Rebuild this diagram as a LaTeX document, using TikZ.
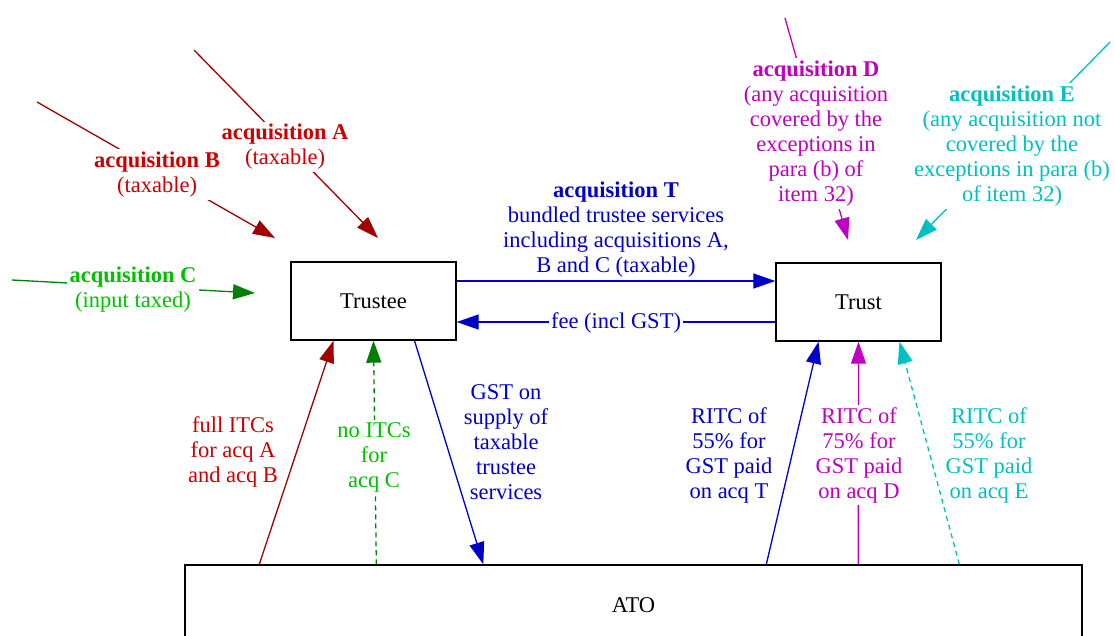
\documentclass[tikz,border=0pt]{standalone}
\usepackage{fontspec}
\setmainfont{Liberation Serif}
\usetikzlibrary{arrows.meta}
\definecolor{redline}{RGB}{160,0,0}
\definecolor{redtext}{RGB}{204,0,0}
\definecolor{greenline}{RGB}{0,128,0}
\definecolor{greentext}{RGB}{0,192,0}
\definecolor{blueline}{RGB}{0,0,200}
\definecolor{magline}{RGB}{192,0,192}
\definecolor{cyanline}{RGB}{0,192,192}
\begin{document}
\begin{tikzpicture}[x=1pt, y=-1pt, font=\fontsize{22.5}{25}\selectfont,
  box/.style={draw, line width=1.4pt, minimum width=165pt, minimum height=78pt, inner sep=0pt},
  lab/.style={align=center, inner sep=1pt},
  onlab/.style={lab, fill=white, inner sep=2.5pt},
  conn/.style={line width=1.3pt, -{Triangle[length=22pt, width=15pt]}},
  dots/.style={dash pattern=on 5pt off 4pt}]
  \clip (0,0) rectangle (1115,635);
  \node[box] (trustee) at (373.5,301) {Trustee};
  \node[box] (trust) at (858.5,302) {Trust};
  \node[box, minimum width=897pt, minimum height=80pt] (ato) at (633.5,605) {ATO};
  \coordinate (srcA) at (194,50);
  \coordinate (endA) at (378,238);
  \coordinate (srcB) at (37,102);
  \coordinate (endB) at (275,238);
  \coordinate (srcC) at (12,280);
  \coordinate (endC) at (255,293);
  \coordinate (srcD) at (785,18);
  \coordinate (endD) at (848,240);
  \coordinate (srcE) at (1110,42);
  \coordinate (endE) at (916,240);
  \draw[conn, redline] (srcA) -- (endA);
  \draw[conn, redline] (srcB) -- (endB);
  \draw[conn, greenline] (srcC) -- (endC);
  \draw[conn, magline] (srcD) -- (endD);
  \draw[conn, cyanline] (srcE) -- (endE);
  \node[onlab, text=redtext] (acqA) at (285,147) {\textbf{acquisition A}\\(taxable)};
  \node[onlab, text=redtext] (acqB) at (157,174.5) {\textbf{acquisition B}\\(taxable)};
  \node[onlab, text=greentext] (acqC) at (133,289.5) {\textbf{acquisition C}\\(input taxed)};
  \node[onlab, text=magline] (acqD) at (816,133.5) {\textbf{acquisition D}\\(any acquisition\\covered by the\\exceptions in\\para (b) of\\item 32)};
  \node[onlab, text=cyanline] (acqE) at (1012,146) {\textbf{acquisition E}\\(any acquisition not\\covered by the\\exceptions in para (b)\\of item 32)};
  \draw[conn, blueline] ([yshift=20pt]trustee.east) -- ([yshift=20pt]trustee.east -| trust.west);
  \draw[conn, blueline] ([yshift=-20pt]trust.west) -- ([yshift=-20pt]trust.west -| trustee.east);
  \node[lab, text=blueline] (acqT) at (616,230) {\textbf{acquisition T}\\bundled trustee services\\including acquisitions A,\\B and C (taxable)};
  \node[onlab, text=blueline] (fee) at (616,323) {fee (incl GST)};
  \draw[conn, redline] ([xshift=75pt]ato.north west) -- ([xshift=-40pt]trustee.south);
  \draw[conn, greenline, dots] ([xshift=192pt]ato.north west) -- (trustee.south);
  \draw[conn, blueline] ([xshift=41pt]trustee.south) -- ([xshift=299pt]ato.north west);
  \draw[conn, blueline] ([xshift=582pt]ato.north west) -- ([xshift=-40pt]trust.south);
  \draw[conn, magline] ([xshift=674pt]ato.north west) -- (trust.south);
  \draw[conn, cyanline, dots] ([xshift=775pt]ato.north west) -- ([xshift=41pt]trust.south);
  \node[lab, text=redtext] (itcAB) at (233,452) {full ITCs\\for acq A\\and acq B};
  \node[onlab, text=greentext] (itcC) at (374,457) {no ITCs\\for\\acq C};
  \node[lab, text=blueline] (gst) at (506,442) {GST on\\supply of\\taxable\\trustee\\services};
  \node[lab, text=blueline] (ritcT) at (729,455) {RITC of\\55\% for\\GST paid\\on acq T};
  \node[onlab, text=magline] (ritcD) at (859,455) {RITC of\\75\% for\\GST paid\\on acq D};
  \node[lab, text=cyanline] (ritcE) at (989,455) {RITC of\\55\% for\\GST paid\\on acq E};
\end{tikzpicture}
\end{document}
